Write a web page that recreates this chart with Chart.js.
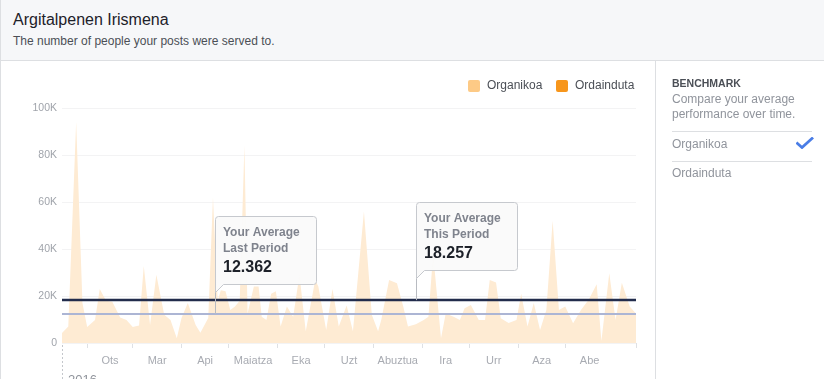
<!DOCTYPE html>
<html>
<head>
<meta charset="utf-8">
<script src="https://cdn.jsdelivr.net/npm/chart.js@4.4.1/dist/chart.umd.min.js"></script>
<style>
  html, body { margin: 0; padding: 0; background: #fff; }
  #wrap { position: relative; width: 824px; height: 379px; overflow: hidden; background: #fff;
          font-family: "Liberation Sans", Arial, Helvetica, sans-serif; }
  .abs { position: absolute; white-space: nowrap; }
</style>
</head>
<body>
<div id="wrap">
  <div class="abs" style="left:0;top:0;width:824px;height:60px;background:#f6f7f9;border-bottom:1px solid #dddfe2;"></div>
  <div class="abs" style="left:13px;top:10px;font-size:16px;line-height:20px;color:#1d2129;">Argitalpenen Irismena</div>
  <div class="abs" style="left:13px;top:34px;font-size:12px;line-height:15px;color:#4b4f56;">The number of people your posts were served to.</div>

  <div class="abs" style="left:0;top:61px;width:655px;height:318px;">
    <canvas id="c" width="655" height="318"></canvas>
  </div>

  <!-- legend -->
  <div class="abs" style="left:468px;top:80px;width:12px;height:12px;border-radius:2px;background:#fdca86;"></div>
  <div class="abs" style="left:487px;top:78px;font-size:12px;line-height:15px;color:#4b4f56;">Organikoa</div>
  <div class="abs" style="left:556px;top:80px;width:12px;height:12px;border-radius:2px;background:#f7961c;"></div>
  <div class="abs" style="left:575px;top:78px;font-size:12px;line-height:15px;color:#4b4f56;">Ordainduta</div>

  <!-- right panel -->
  <div class="abs" style="left:655px;top:61px;width:1px;height:318px;background:#dddfe2;"></div>
  <div class="abs" style="left:672px;top:77px;font-size:10.5px;line-height:13px;font-weight:bold;color:#4b4f56;">BENCHMARK</div>
  <div class="abs" style="left:672px;top:92px;font-size:12px;line-height:15px;color:#90949c;">Compare your average<br>performance over time.</div>
  <div class="abs" style="left:672px;top:131px;width:140px;height:1px;background:#dddfe2;"></div>
  <div class="abs" style="left:672px;top:137px;font-size:12px;line-height:15px;color:#90949c;">Organikoa</div>
  <svg class="abs" style="left:796px;top:137px;" width="18" height="12" viewBox="0 0 18 12">
    <path d="M1.5 6.5 L6 10.5 L16 1.5" fill="none" stroke="#4a7de6" stroke-width="2.8" stroke-linecap="square"/>
  </svg>
  <div class="abs" style="left:672px;top:161px;width:140px;height:1px;background:#dddfe2;"></div>
  <div class="abs" style="left:672px;top:166px;font-size:12px;line-height:15px;color:#90949c;">Ordainduta</div>

  <div class="abs" style="left:0;top:0;width:1px;height:379px;background:#dddfe2;"></div>
</div>

<script>
// ---------- data ----------
const startDay = 15;      // day of year 2016 where the range starts
const endDay = 380;       // day where the range ends
const yearLabel = '2016';

const days = [15,19,24,28,31,36,39,43,47,52,56,60,64,67,71,75,80,84,88,91,95,100,103,108,
  111,114,116,119,122,125,128,131,133,137,140,142,145,148,151,154,158,162,166,170,176,178,
  183,187,191,196,200,207,212,216,218,223,228,232,235,240,245,248,251,256,259,264,268,271,
  275,280,284,287,291,294,299,304,307,311,315,319,323,327,331,335,340,345,350,355,358,363,
  367,371,376,380];
const organic = [4300,7000,94000,17000,6800,9800,23000,18000,17600,10800,9800,6800,7400,32800,
  7700,29000,12000,9800,2000,10600,17000,7700,4400,10600,
  62000,18000,22500,22000,14000,15500,18000,84000,12600,24000,24000,11200,9800,21000,22000,
  7000,15500,11200,29000,5000,26800,24000,
  5500,23000,7000,16000,5000,56000,12000,5000,9800,26800,25400,15500,7000,8000,9800,11200,
  38000,2000,12600,11200,9800,14800,
  16200,9800,9800,26800,25700,10500,8500,9800,21000,7000,17000,5500,14000,52000,14000,15500,
  8400,14000,18500,25000,800,29700,
  9800,25600,15500,12600];

const paidDays = [15, 380];
const paid = [0, 0];

const averageLastPeriod = 12362;
const averageThisPeriod = 18257;

const monthStarts = [31,60,91,121,152,182,213,244,274,305,335];
const monthMids = [45.5,75.5,106,136.5,167,197.5,228.5,259,289.5,320,350.5];
const monthLabels = ['Ots','Mar','Api','Maiatza','Eka','Uzt','Abuztua','Ira','Urr','Aza','Abe'];
const yTicks = [0,20000,40000,60000,80000,100000];

const callouts = [
  { day: 112, value: averageLastPeriod, lines: ['Your Average', 'Last Period'] },
  { day: 240, value: averageThisPeriod, lines: ['Your Average', 'This Period'] }
];

// ---------- helpers ----------
function fmt(n) { return String(n).replace(/\B(?=(\d{3})+(?!\d))/g, '.'); }
const FONT = '"Liberation Sans", Arial, Helvetica, sans-serif';

const organicPts = days.map((d, i) => ({ x: d, y: organic[i] }));
const paidPts = paidDays.map((d, i) => ({ x: d, y: paid[i] }));
const lastPts = [{ x: startDay, y: averageLastPeriod }, { x: endDay, y: averageLastPeriod }];
const thisPts = [{ x: startDay, y: averageThisPeriod }, { x: endDay, y: averageThisPeriod }];

const decorPlugin = {
  id: 'decor',
  afterDraw(chart) {
    const ctx = chart.ctx, xs = chart.scales.x, ys = chart.scales.y;
    ctx.save();
    // dashed year marker
    const x0 = Math.round(xs.getPixelForValue(startDay)) + 0.5;
    ctx.strokeStyle = '#c4c7cc'; ctx.lineWidth = 1; ctx.setLineDash([2, 2]);
    ctx.beginPath(); ctx.moveTo(x0, ys.bottom + 2); ctx.lineTo(x0, chart.height); ctx.stroke();
    ctx.setLineDash([]);
    ctx.fillStyle = '#90949c'; ctx.font = '13px ' + FONT; ctx.textBaseline = 'alphabetic';
    ctx.fillText(yearLabel, x0 + 5.5, ys.bottom + 41);

    // callouts
    callouts.forEach(c => {
      const left = Math.round(xs.getPixelForValue(c.day)) + 0.5;
      const yLine = ys.getPixelForValue(c.value);
      const bottom = Math.round(yLine - 30) + 0.5;
      const top = bottom - 68, right = left + 101, r = 3;
      ctx.beginPath();
      ctx.moveTo(left + r, top);
      ctx.lineTo(right - r, top);
      ctx.arcTo(right, top, right, top + r, r);
      ctx.lineTo(right, bottom - r);
      ctx.arcTo(right, bottom, right - r, bottom, r);
      ctx.lineTo(left + 8, bottom);
      ctx.lineTo(left, bottom + 8);
      ctx.lineTo(left, top + r);
      ctx.arcTo(left, top, left + r, top, r);
      ctx.closePath();
      ctx.fillStyle = 'rgba(250,250,250,0.96)';
      ctx.fill();
      ctx.strokeStyle = '#c6c9ce'; ctx.lineWidth = 1; ctx.stroke();
      ctx.beginPath(); ctx.moveTo(left, bottom + 8); ctx.lineTo(left, yLine); ctx.strokeStyle = '#b8bbc1'; ctx.stroke();

      ctx.fillStyle = '#7f838d'; ctx.font = 'bold 12px ' + FONT;
      ctx.fillText(c.lines[0], left + 7.5, top + 19);
      ctx.fillText(c.lines[1], left + 7.5, top + 35);
      ctx.fillStyle = '#1d2129'; ctx.font = 'bold 16px ' + FONT;
      ctx.fillText(fmt(c.value), left + 7.5, top + 55.5);
    });
    ctx.restore();
  }
};

new Chart(document.getElementById('c'), {
  type: 'line',
  data: {
    datasets: [
      { label: 'Your Average This Period', data: thisPts, borderColor: '#222c4c', borderWidth: 2.5,
        pointRadius: 0, fill: false, order: 0 },
      { label: 'Your Average Last Period', data: lastPts, borderColor: '#acb5d4', borderWidth: 2,
        pointRadius: 0, fill: false, order: 1 },
      { label: 'Ordainduta', data: paidPts, borderWidth: 0, backgroundColor: '#f7961c',
        pointRadius: 0, fill: 'origin', order: 2 },
      { label: 'Organikoa', data: organicPts, borderWidth: 0, borderColor: 'rgba(0,0,0,0)',
        backgroundColor: '#feebd3', pointRadius: 0, fill: 'origin', tension: 0, order: 3 }
    ]
  },
  options: {
    responsive: false,
    animation: false,
    events: [],
    layout: { padding: { left: 0, right: 19, top: 47, bottom: 0 } },
    plugins: { legend: { display: false }, tooltip: { enabled: false } },
    scales: {
      x: {
        type: 'linear', min: startDay, max: endDay,
        afterBuildTicks(scale) {
          scale.ticks = monthStarts.concat([endDay], monthMids).sort((a, b) => a - b).map(v => ({ value: v }));
        },
        afterFit(scale) { scale.height = 36; },
        ticks: {
          autoSkip: false, maxRotation: 0, minRotation: 0, padding: 6,
          color: '#a8abb2', font: { size: 11, family: FONT },
          callback(v) { const i = monthMids.indexOf(v); return i >= 0 ? monthLabels[i] : ''; }
        },
        grid: {
          drawOnChartArea: false, drawTicks: true, tickLength: 5,
          tickColor(ctx) { return ctx.tick && monthMids.indexOf(ctx.tick.value) < 0 ? '#dfe1e4' : 'rgba(0,0,0,0)'; }
        },
        border: { display: false }
      },
      y: {
        min: 0, max: 100000,
        afterBuildTicks(scale) { scale.ticks = yTicks.map(v => ({ value: v })); },
        afterFit(scale) { scale.width = 62; },
        ticks: {
          padding: 5, color: '#a0a4ab', font: { size: 10.5, family: FONT },
          callback(v) { return v === 0 ? '0' : (v / 1000) + 'K'; }
        },
        grid: { color: '#f3f3f4', drawTicks: false },
        border: { display: false }
      }
    }
  },
  plugins: [decorPlugin]
});
</script>
</body>
</html>
